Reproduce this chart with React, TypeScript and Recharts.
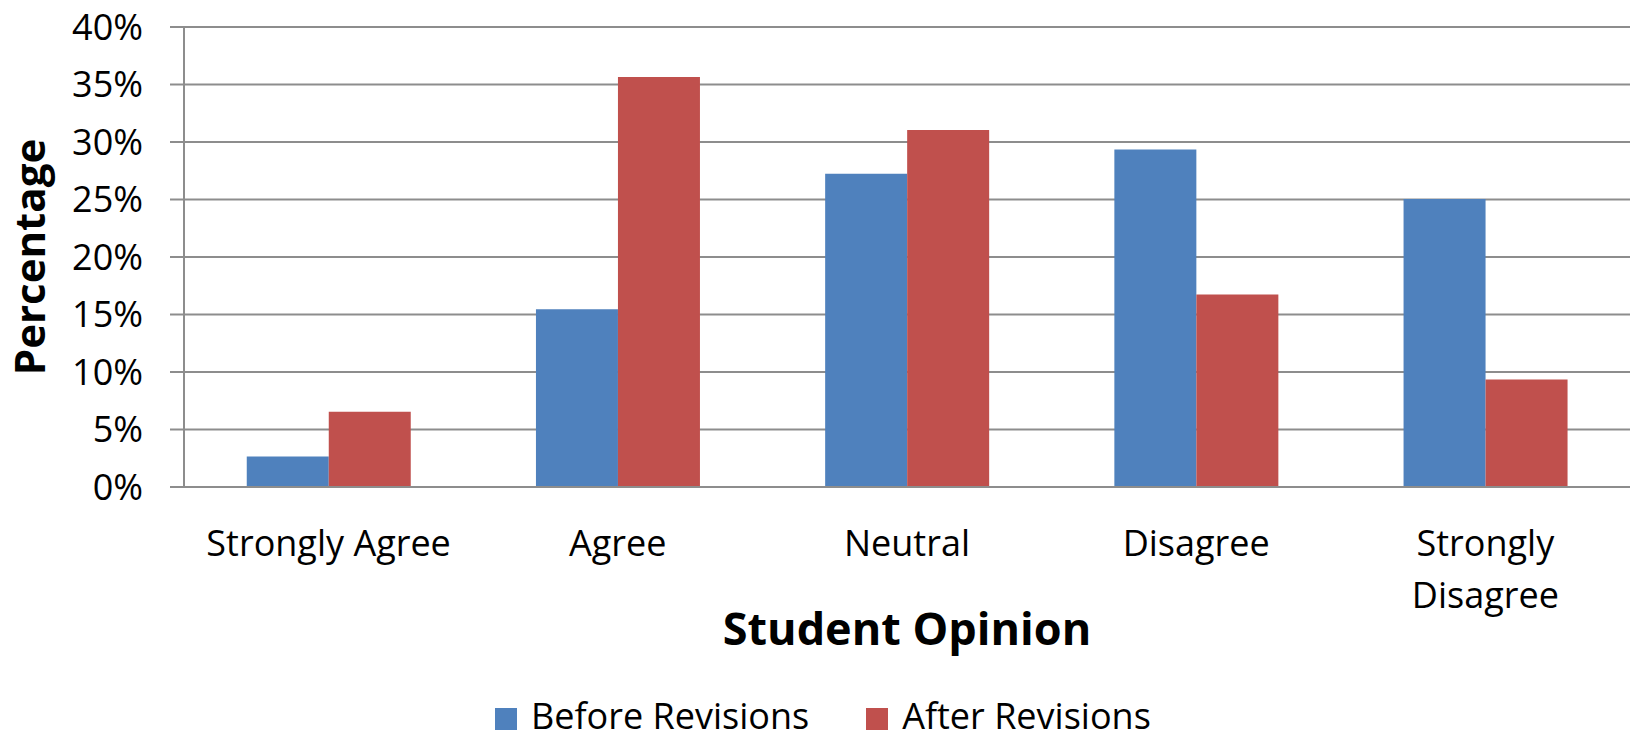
import React from "react";
import { BarChart, Bar, XAxis, YAxis, CartesianGrid, Legend } from "recharts";

// values, in percent
const CATEGORIES = ["Strongly Agree", "Agree", "Neutral", "Disagree", "Strongly Disagree"];
const BEFORE = [2.65, 15.45, 27.25, 29.35, 25.05];
const AFTER = [6.55, 35.65, 31.05, 16.75, 9.35];
const Y_TICKS = [0, 5, 10, 15, 20, 25, 30, 35, 40];

const SERIES = [
  { key: "before", name: "Before Revisions", color: "#4F81BD" },
  { key: "after", name: "After Revisions", color: "#C0504D" },
];

const data = CATEGORIES.map((name, i) => ({ name, before: BEFORE[i], after: AFTER[i] }));

const FONT = "'Open Sans', sans-serif";
const GRID = "#8d8d8d";

// labels too wide for a category band break into one word per line, like Excel does
const CategoryTick = ({ x, y, payload }: any) => {
  const label: string = payload.value;
  const lines = label.length > 15 ? label.split(" ") : [label];
  return (
    <text x={x} y={y + 69} textAnchor="middle" fill="#000" fontSize={36} fontFamily={FONT}>
      {lines.map((line, i) => (
        <tspan key={i} x={x} dy={i === 0 ? 0 : 52}>
          {line}
        </tspan>
      ))}
    </text>
  );
};

const XTitle = ({ viewBox }: any) => (
  <text
    x={viewBox.x + viewBox.width / 2}
    y={viewBox.y + 158}
    textAnchor="middle"
    fontFamily={FONT}
    fontSize={45}
    fontWeight={700}
    fill="#000"
  >
    Student Opinion
  </text>
);

const YTitle = ({ viewBox }: any) => {
  const x = viewBox.x + 45;
  const y = viewBox.y + viewBox.height / 2;
  return (
    <text
      x={x}
      y={y}
      transform={`rotate(-90, ${x}, ${y})`}
      textAnchor="middle"
      fontFamily={FONT}
      fontSize={42}
      fontWeight={700}
      fill="#000"
    >
      Percentage
    </text>
  );
};

const LegendContent = () => (
  <div style={{ display: "flex", paddingLeft: 495, fontFamily: FONT, fontSize: 36, color: "#000" }}>
    {SERIES.map((s) => (
      <div key={s.key} style={{ display: "flex", alignItems: "center", height: 36, marginRight: 57 }}>
        <span style={{ width: 22, height: 22, background: s.color, marginRight: 14, marginTop: 6 }} />
        <span style={{ lineHeight: "36px" }}>{s.name}</span>
      </div>
    ))}
  </div>
);

export default function App() {
  return (
    <div style={{ position: "absolute", left: 0, top: 0, width: 1630, height: 737, background: "#fff" }}>
      <BarChart
        width={1630}
        height={737}
        data={data}
        margin={{ top: 27, right: 0, left: 0, bottom: 0 }}
        barCategoryGap="21.7%"
        barGap={0}
      >
        <CartesianGrid vertical={false} stroke={GRID} strokeWidth={2} />
        <XAxis
          dataKey="name"
          height={250}
          tickLine={false}
          tickSize={0}
          tickMargin={0}
          axisLine={{ stroke: GRID, strokeWidth: 2 }}
          tick={<CategoryTick />}
          interval={0}
          label={<XTitle />}
        />
        <YAxis
          width={184}
          domain={[0, 40]}
          ticks={Y_TICKS}
          tickFormatter={(v) => `${v}%`}
          tickSize={14}
          tickMargin={27}
          tickLine={{ stroke: GRID, strokeWidth: 2 }}
          axisLine={{ stroke: GRID, strokeWidth: 2 }}
          tick={{ fill: "#000", fontSize: 36, fontFamily: FONT }}
          label={<YTitle />}
        />
        <Legend
          verticalAlign="middle"
          align="center"
          content={<LegendContent />}
          wrapperStyle={{ top: 698, left: 0, width: 1630 }}
        />
        {SERIES.map((s) => (
          <Bar key={s.key} dataKey={s.key} name={s.name} fill={s.color} isAnimationActive={false} />
        ))}
      </BarChart>
    </div>
  );
}
